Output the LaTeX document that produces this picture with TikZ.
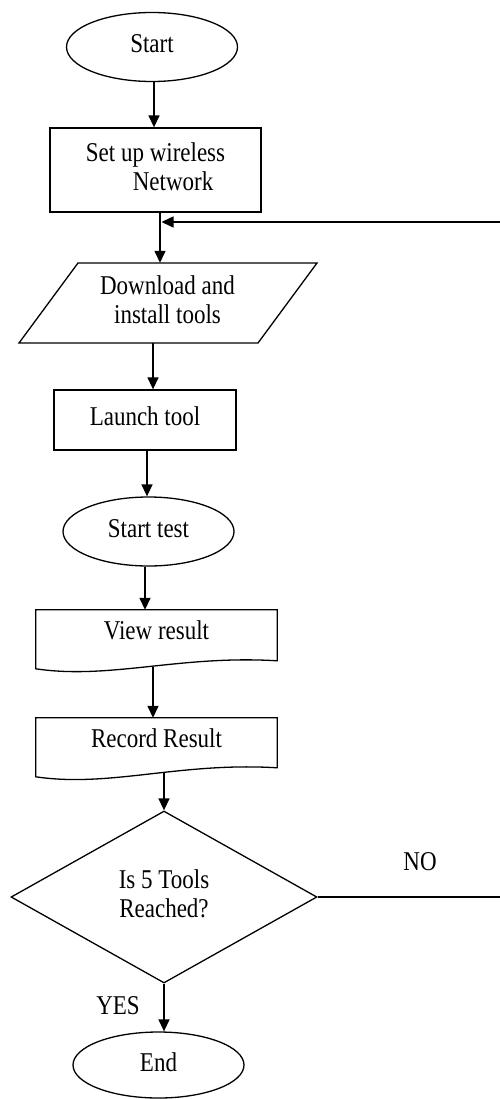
\documentclass[tikz,border=0pt]{standalone}
\usepackage{fontspec}
\setmainfont{Liberation Serif}
\usepackage{graphicx}
\usetikzlibrary{shapes.geometric,arrows.meta,calc}

% text block, slightly stretched vertically
\newcommand{\lbl}[1]{\scalebox{1}[1.18]{\begin{tabular}{@{}c@{}}#1\end{tabular}}}

\begin{document}
\begin{tikzpicture}[x=1pt,y=-1pt,
  every node/.style={font=\fontsize{23}{25.4}\selectfont, inner sep=0pt},
  flow/.style={line width=1.5pt, -{Triangle[length=12pt,width=11pt]}},
  term/.style={draw, line width=1.3pt, ellipse, minimum width=171pt, minimum height=69pt},
  procbox/.style={draw, line width=1.3pt, rectangle},
  outline/.style={line width=1.3pt, line join=miter},
]
\useasboundingbox (0,0) rectangle (500,1099);

% terminals and process steps
\node[term] (start) at (152,47) {\lbl{Start}};
\node[procbox, minimum width=211pt, minimum height=84pt] (setup) at (155.5,170)
  {\scalebox{1}[1.18]{\begin{tabular}{@{}l@{}}Set up wireless\\\hspace*{47pt}Network\end{tabular}}};

% input/output step (parallelogram)
\node[minimum width=298pt, minimum height=80pt] (para) at (167.5,303) {\lbl{Download and\\install tools}};
\draw[outline] ($(para.center)+(-89.5,-40)$) -- ++(239,0) -- ++(-59,80) -- ++(-239,0) -- cycle;

\node[procbox, minimum width=182pt, minimum height=60pt] (launch) at (145,420) {\lbl{Launch tool}};
\node[term] (test) at (148.5,531.5) {\lbl{Start test}};

% document shapes with wavy bottom edge
\node[minimum width=241pt, minimum height=46pt] (view) at (156.5,633) {\lbl{View result}};
\draw[outline] (view.north west) -- (view.north east) -- ($(view.north east)+(0,51)$)
  .. controls ($(view.north west)+(144,45)$) and ($(view.north west)+(74,70)$) ..
  ($(view.north west)+(0,59)$) -- cycle;
\coordinate (viewb) at (153,667);

\node[minimum width=241pt, minimum height=46pt] (record) at (156.5,741) {\lbl{Record Result}};
\draw[outline] (record.north west) -- (record.north east) -- ($(record.north east)+(0,50)$)
  .. controls ($(record.north west)+(144,44)$) and ($(record.north west)+(74,70)$) ..
  ($(record.north west)+(0,59)$) -- cycle;
\coordinate (recb) at (164,772);

% decision
\node[draw, diamond, line width=1.3pt, minimum width=306pt, minimum height=172pt] (dec) at (164,897)
  {\lbl{Is 5 Tools\\Reached?}};
\node[term, minimum height=66pt] (stop) at (158.5,1065) {\lbl{End}};

% branch labels
\node (no) at (420,864) {\lbl{NO}};
\node (yes) at (118,1008) {\lbl{YES}};

% connectors
\coordinate (join) at (161.5,222);
\draw[flow] (start.south -| 154,0) -- (setup.north -| 154,0);
\draw[flow] (setup.south -| 160,0) -- (para.north -| 160,0);
\draw[flow] (para.south -| 153,0) -- (launch.north -| 153,0);
\draw[flow] (launch.south -| 147,0) -- (test.north -| 147,0);
\draw[flow] (test.south -| 145,0) -- (view.north -| 145,0);
\draw[flow] (viewb) -- (record.north -| viewb);
\draw[flow] (recb) -- (dec.north);
\draw[flow] (dec.south) -- (stop.north -| dec.south);
% loop back on NO
\draw[flow] (dec.east) -- ++(200,0) |- (join);
\end{tikzpicture}
\end{document}
